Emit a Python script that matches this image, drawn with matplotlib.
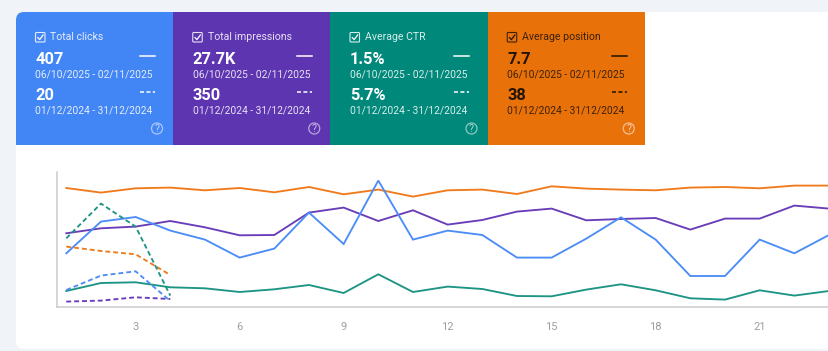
#!/usr/bin/env python3
"""Search performance tiles above a four-metric comparison line chart."""

import matplotlib

matplotlib.use("Agg")
import matplotlib.pyplot as plt
from matplotlib.patches import Circle, FancyBboxPatch, Rectangle

plt.rcParams["font.family"] = ["Roboto", "DejaVu Sans"]

W, H = 829, 351

# tiles
TITLES = ["Total clicks", "Total impressions", "Average CTR", "Average position"]
CURRENT = ["407", "27.7K", "1.5%", "7.7"]
PREVIOUS = ["20", "350", "5.7%", "38"]
CURRENT_RANGE = "06/10/2025 - 02/11/2025"
PREVIOUS_RANGE = "01/12/2024 - 31/12/2024"
BLUE, PURPLE, TEAL, ORANGE = "#4285F4", "#5E35B1", "#00897B", "#E8710A"
TILE_COLORS = [BLUE, PURPLE, TEAL, ORANGE]
LINE_COLORS = {BLUE: "#4C8DF6", PURPLE: "#6A3DB8", TEAL: "#1E9484", ORANGE: "#F07B1D"}

# series (each metric has its own hidden scale)
days = list(range(1, 24))
clicks = [54, 85.7, 90.3, 76.7, 67.7, 49.7, 58.7, 94.7, 63.3, 126.7, 67.7, 76.7,
          72.3, 49.7, 49.7, 68.7, 90, 67.7, 31.3, 31.3, 67.7, 54, 72.3]
impressions = [74, 79, 80.7, 86.3, 80, 72, 72.3, 94.7, 99.7, 86.3, 97, 82.7,
               87.3, 95.7, 98.7, 87, 88.3, 89.3, 77.7, 88.7, 88.7, 101.7, 98.7]
ctr = [16.3, 24.3, 25, 20, 19, 15.3, 18, 22.3, 14.3, 33, 15.3, 20.7,
       18.3, 11.3, 11, 17.7, 23, 17, 9, 7.7, 17, 11.7, 16.3]
position = [119.3, 114.7, 119, 119.7, 117, 119.3, 115, 120.3, 113, 117.7, 110.7, 117,
            117.7, 113.3, 121, 118.7, 117.7, 117, 119.7, 120.3, 119, 121.7, 121.7]

prev_days = [1, 2, 3, 4]
prev_clicks = [17.3, 31.7, 36, 6.3]
prev_impressions = [5.7, 6.7, 10, 8.3]
prev_ctr = [69, 103.7, 80.7, 11.7]
prev_position = [60.7, 56.3, 53, 32.3]

tick_days = [3, 6, 9, 12, 15, 18, 21]

fig = plt.figure(figsize=(W / 100, H / 100), dpi=100, facecolor="#F0F3F8")

# pixel canvas for the card and tiles
bg = fig.add_axes([0, 0, 1, 1])
bg.set_xlim(0, W)
bg.set_ylim(H, 0)
bg.axis("off")
bg.add_patch(FancyBboxPatch((16, 12), 900, 337, boxstyle="round,pad=0,rounding_size=8",
                            fc="white", ec="none"))

tile_w = 157.25
for i, color in enumerate(TILE_COLORS):
    x0 = 16 + i * tile_w
    if i == 0:
        # rounded top-left corner only
        bg.add_patch(FancyBboxPatch((x0, 12), tile_w, 133, boxstyle="round,pad=0,rounding_size=8",
                                    fc=color, ec="none"))
        bg.add_patch(Rectangle((x0, 40), tile_w, 105, fc=color, ec="none"))
        bg.add_patch(Rectangle((x0 + 40, 12), tile_w - 40, 40, fc=color, ec="none"))
    else:
        bg.add_patch(Rectangle((x0, 12), tile_w, 133, fc=color, ec="none"))

    fg = "#1F1408" if color == ORANGE else "white"
    tx = x0 + 19.5
    bg.add_patch(FancyBboxPatch((tx, 32.5), 9.5, 9.5, boxstyle="round,pad=0,rounding_size=1",
                                fc="none", ec=fg, lw=0.8, alpha=0.85))
    bg.plot([tx + 2.3, tx + 4.2, tx + 7.6], [37.6, 39.6, 35], color=fg, lw=0.9)
    bg.text(tx + 15, 36.5, TITLES[i], color=fg, fontsize=7.6, va="center", alpha=0.85)
    bg.text(tx, 59, CURRENT[i], color=fg, fontsize=11.8, fontweight="bold", va="center")
    bg.text(tx, 74, CURRENT_RANGE, color=fg, fontsize=7.35, va="center", alpha=0.85)
    bg.text(tx, 95.5, PREVIOUS[i], color=fg, fontsize=11.8, fontweight="bold", va="center")
    bg.text(tx, 110, PREVIOUS_RANGE, color=fg, fontsize=7.35, va="center", alpha=0.85)
    bg.plot([x0 + 124, x0 + 139], [56, 56], color=fg, lw=1.1)
    bg.plot([x0 + 124, x0 + 139], [91.5, 91.5], color=fg, lw=1.1, dashes=(2.6, 1.6))
    bg.add_patch(Circle((x0 + 141, 128.5), 5.5, fc="none", ec="white", lw=0.9, alpha=0.55))
    bg.text(x0 + 141, 128.7, "?", color="white", alpha=0.65, fontsize=7.6, ha="center", va="center")

# line chart
left, right, top, bottom = 57, W, 172, 307.3
ax = fig.add_axes([left / W, 1 - bottom / H, (right - left) / W, (bottom - top) / H])
ax.patch.set_alpha(0)
ax.set_xlim(0.732, 23.0)
ax.set_ylim(0, bottom - top)

for values, color in [(position, ORANGE), (ctr, TEAL), (impressions, PURPLE), (clicks, BLUE)]:
    ax.plot(days, values, color=LINE_COLORS[color], lw=1.35, solid_joinstyle="miter")
for values, color in [(prev_position, ORANGE), (prev_ctr, TEAL),
                      (prev_clicks, BLUE), (prev_impressions, PURPLE)]:
    ax.plot(prev_days, values, color=LINE_COLORS[color], lw=1.35, dashes=(2.6, 1.6))

for side in ["top", "right"]:
    ax.spines[side].set_visible(False)
for side in ["left", "bottom"]:
    ax.spines[side].set_color("#CCCCCC")
    ax.spines[side].set_linewidth(1.1)
ax.set_yticks([])
ax.set_xticks(tick_days)
ax.tick_params(axis="x", length=0, pad=10.5, labelsize=8, labelcolor="#9E9E9E")

fig.savefig("out.png", dpi=100, facecolor=fig.get_facecolor())
plt.close(fig)
